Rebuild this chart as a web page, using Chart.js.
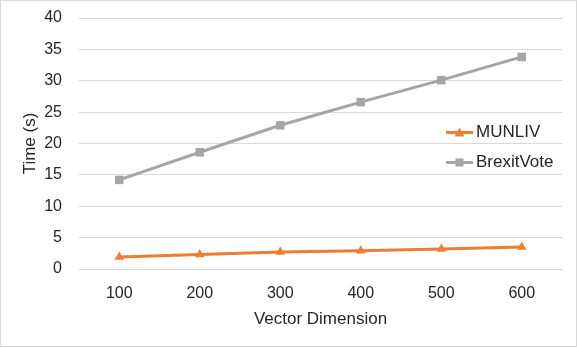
<!DOCTYPE html>
<html lang="en">
<head>
    <meta charset="UTF-8">
    <title>Time vs Vector Dimension</title>
    <script src="https://cdn.jsdelivr.net/npm/chart.js"></script>
    <style>
        body { margin: 0; background: #fff; }
        #wrap { width: 577px; height: 348px; }
    </style>
</head>
<body>
    <div id="wrap"><canvas id="myChart" width="577" height="348"></canvas></div>

    <script>
        const dimensions = ['100', '200', '300', '400', '500', '600'];
        const munlivTimes = [1.9, 2.3, 2.7, 2.9, 3.2, 3.5];
        const brexitTimes = [14.2, 18.6, 22.9, 26.6, 30.1, 33.8];

        const textColor = '#262626';
        const fontFamily = '"Liberation Sans", Arial, sans-serif';

        // legend drawn over the plot, like the original
        const overlayLegend = {
            id: 'overlayLegend',
            afterDraw(chart) {
                const ctx = chart.ctx;
                ctx.save();
                chart.data.datasets.forEach((ds, i) => {
                    const y = 132.5 + i * 30;
                    ctx.strokeStyle = ds.borderColor;
                    ctx.lineWidth = 3;
                    ctx.beginPath();
                    ctx.moveTo(446, y);
                    ctx.lineTo(473, y);
                    ctx.stroke();
                    ctx.fillStyle = ds.borderColor;
                    ctx.beginPath();
                    if (ds.pointStyle === 'triangle') {
                        ctx.moveTo(459.5, y - 5);
                        ctx.lineTo(464.5, y + 4);
                        ctx.lineTo(454.5, y + 4);
                    } else {
                        ctx.rect(455.5, y - 4, 8, 8);
                    }
                    ctx.fill();
                    ctx.fillStyle = textColor;
                    ctx.font = '17px ' + fontFamily;
                    ctx.textBaseline = 'middle';
                    ctx.fillText(ds.label, 476, y);
                });
                ctx.strokeStyle = '#d9d9d9';
                ctx.lineWidth = 1;
                ctx.strokeRect(0.5, 0.5, 576, 346);
                ctx.restore();
            }
        };

        const ctx = document.getElementById('myChart').getContext('2d');
        new Chart(ctx, {
            type: 'line',
            data: {
                labels: dimensions,
                datasets: [{
                    label: 'MUNLIV',
                    data: munlivTimes,
                    borderColor: '#ED7D31',
                    backgroundColor: '#ED7D31',
                    borderWidth: 3,
                    pointStyle: 'triangle',
                    pointRadius: 5.5,
                    pointBorderWidth: 0,
                    tension: 0
                }, {
                    label: 'BrexitVote',
                    data: brexitTimes,
                    borderColor: '#A5A5A5',
                    backgroundColor: '#A5A5A5',
                    borderWidth: 3,
                    pointStyle: 'rect',
                    pointRadius: 6,
                    pointBorderWidth: 0,
                    tension: 0
                }]
            },
            options: {
                responsive: false,
                animation: false,
                layout: { padding: { top: 18, right: 15, bottom: 0, left: 0 } },
                scales: {
                    x: {
                        offset: true,
                        grid: { display: false, drawTicks: false },
                        border: { display: false },
                        ticks: { color: textColor, padding: 15, font: { family: fontFamily, size: 16 } },
                        title: {
                            display: true, text: 'Vector Dimension', color: textColor,
                            font: { family: fontFamily, size: 17 }, padding: { top: 0, bottom: 18 }
                        },
                        afterFit: s => { s.height = 79; s.paddingLeft = 0; s.paddingRight = 0; }
                    },
                    y: {
                        min: 0, max: 40,
                        grid: { color: '#d9d9d9', lineWidth: 1, drawTicks: false },
                        border: { display: false },
                        ticks: { stepSize: 5, color: textColor, padding: 17, font: { family: fontFamily, size: 16 } },
                        title: {
                            display: true, text: 'Time (s)', color: textColor,
                            font: { family: fontFamily, size: 17 }, padding: { top: 20, bottom: 0 }
                        },
                        afterFit: s => { s.width = 79; s.paddingTop = 0; s.paddingBottom = 0; }
                    }
                },
                plugins: {
                    legend: { display: false },
                    tooltip: { enabled: false }
                }
            },
            plugins: [overlayLegend]
        });
    </script>
</body>
</html>
